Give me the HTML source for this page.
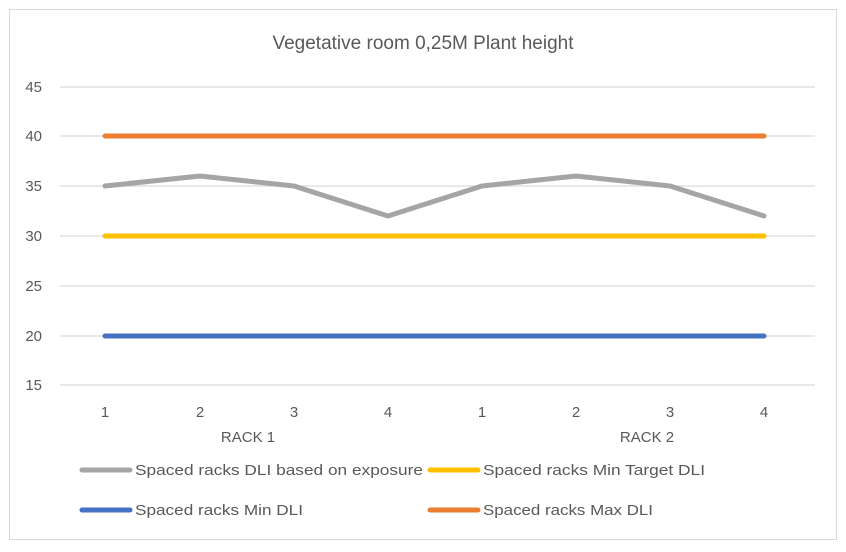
<!DOCTYPE html>
<html><head><meta charset="utf-8"><style>
html,body{margin:0;padding:0;background:#fff;}
svg{display:block;font-family:"Liberation Sans",sans-serif;}
</style></head><body>
<svg width="846" height="552" viewBox="0 0 846 552">
<rect x="9.5" y="9.5" width="827" height="530" fill="#fff" stroke="#d9d9d9"/>
<text x="423" y="49" font-size="19" fill="#595959" text-anchor="middle">Vegetative room 0,25M Plant height</text>
<g stroke="#d9d9d9" stroke-width="1.3">
<line x1="60" x2="815" y1="87" y2="87"/>
<line x1="60" x2="815" y1="136" y2="136"/>
<line x1="60" x2="815" y1="186" y2="186"/>
<line x1="60" x2="815" y1="236" y2="236"/>
<line x1="60" x2="815" y1="286" y2="286"/>
<line x1="60" x2="815" y1="336" y2="336"/>
<line x1="60" x2="815" y1="385" y2="385"/>
</g>
<g font-size="15" fill="#595959" text-anchor="end">
<text x="42" y="92">45</text><text x="42" y="141">40</text><text x="42" y="191">35</text>
<text x="42" y="241">30</text><text x="42" y="291">25</text><text x="42" y="341">20</text><text x="42" y="390">15</text>
</g>
<g stroke-width="5" stroke-linecap="round" fill="none">
<line x1="105" x2="764" y1="136" y2="136" stroke="#ed7d31"/>
<line x1="105" x2="764" y1="236" y2="236" stroke="#ffc000"/>
<line x1="105" x2="764" y1="336" y2="336" stroke="#4472c4"/>
<polyline points="105,186 200,176 294,186 388,216 482,186 576,176 670,186 764,216" stroke="#a5a5a5" stroke-linejoin="round"/>
</g>
<g font-size="15" fill="#595959" text-anchor="middle">
<text x="105" y="417">1</text><text x="200" y="417">2</text><text x="294" y="417">3</text><text x="388" y="417">4</text>
<text x="482" y="417">1</text><text x="576" y="417">2</text><text x="670" y="417">3</text><text x="764" y="417">4</text>
<text x="248" y="442">RACK 1</text><text x="647" y="442">RACK 2</text>
</g>
<g stroke-width="5" stroke-linecap="round">
<line x1="82" x2="130" y1="470" y2="470" stroke="#a5a5a5"/>
<line x1="430" x2="478" y1="470" y2="470" stroke="#ffc000"/>
<line x1="82" x2="130" y1="510" y2="510" stroke="#4472c4"/>
<line x1="430" x2="478" y1="510" y2="510" stroke="#ed7d31"/>
</g>
<g font-size="15" fill="#595959">
<text x="135" y="475" textLength="288" lengthAdjust="spacingAndGlyphs">Spaced racks DLI based on exposure</text>
<text x="483" y="475" textLength="222" lengthAdjust="spacingAndGlyphs">Spaced racks Min Target DLI</text>
<text x="135" y="515" textLength="168" lengthAdjust="spacingAndGlyphs">Spaced racks Min DLI</text>
<text x="483" y="515" textLength="170" lengthAdjust="spacingAndGlyphs">Spaced racks Max DLI</text>
</g>
</svg>
</body></html>
